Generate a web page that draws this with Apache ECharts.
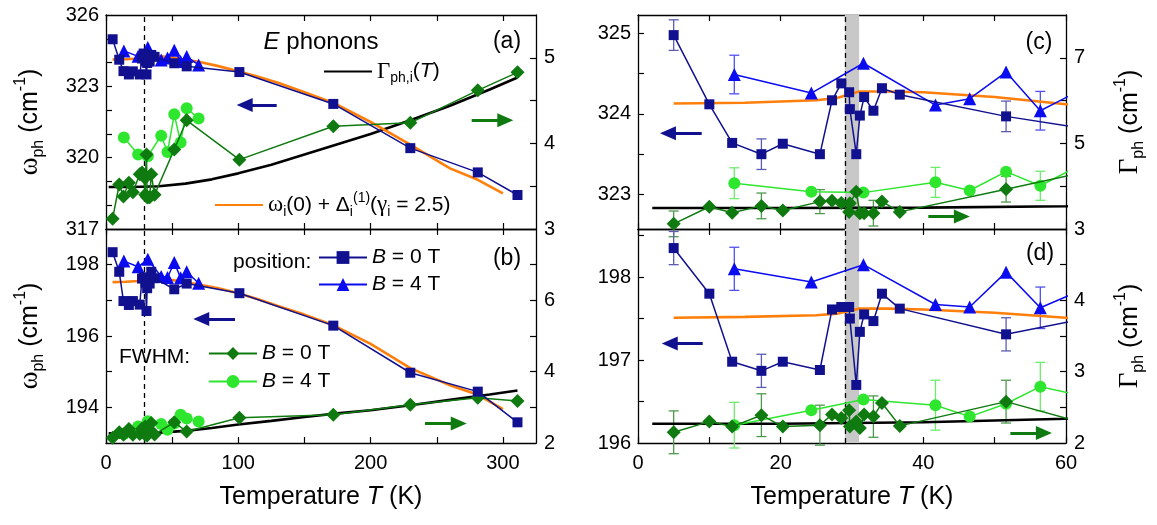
<!DOCTYPE html>
<html><head><meta charset="utf-8">
<script src="https://cdn.jsdelivr.net/npm/echarts@6/dist/echarts.min.js"></script>
<style>html,body{margin:0;padding:0;background:#fff}#c{width:1157px;height:525px}</style>
</head><body><div id="c"></div>
<script>
// ---------------- DATA ----------------
// B = 0 T temperatures (K)
const T0 = [5,10,13.2,17.3,20.3,25.5,27.2,28.5,29.6,29.7,30.6,31.1,31.7,33,34.2,36.7,51.6,61,100.8,171.8,230,281,311];
// E phonon ~324 cm-1 : position and FWHM, B = 0 T
const wE0 = [324.98,324.12,323.64,323.50,323.63,323.50,324.17,324.38,324.27,324.06,323.50,323.98,324.21,324.04,324.32,324.24,323.97,323.84,323.6,322.26,320.4,319.38,318.43];
const gE0 = [3.12,3.52,3.38,3.54,3.43,3.64,3.66,3.61,3.40,3.60,3.87,3.37,3.37,3.37,3.64,3.40,3.93,4.27,3.81,4.2,4.24,4.62,4.83];
// E phonon ~197 cm-1 : position and FWHM, B = 0 T
const wA0 = [198.35,197.80,196.98,196.87,196.98,196.88,197.61,197.64,197.64,197.50,196.70,197.34,197.55,197.47,197.80,197.62,197.31,197.47,197.2,196.29,194.97,194.44,193.58];
const gA0 = [2.15,2.30,2.23,2.39,2.23,2.25,2.40,2.35,2.46,2.23,2.30,2.21,2.40,2.37,2.56,2.24,2.58,2.32,2.71,2.79,3.07,3.27,3.18];
// B = 4 T
const T4 = [13.5,24.3,31.6,41.7,46.5,51.6,56.4,61,70];
const wE4 = [324.49,324.26,324.63,324.11,324.19,324.52,324.04,324.25,323.9];
const gE4 = [4.07,3.87,3.85,4.09,3.90,4.34,4.01,4.41,4.29];
const wA4 = [198.10,197.94,198.15,197.67,197.64,198.06,197.63,197.8,197.48];
const gA4 = [2.25,2.46,2.61,2.53,2.37,2.55,2.79,2.69,2.6];
// model omega_i(0) + Delta_i(1)
const Tm = [5,15,25,28,31,35,40,50,60,70,85,100,115,130,150,172,200,230,260,281,300];
const mE = [324.13,324.14,324.17,324.2,324.28,324.28,324.27,324.21,324.12,324.03,323.85,323.63,323.4,323.15,322.75,322.3,321.5,320.55,319.55,319.07,318.5];
const mA = [197.51,197.52,197.54,197.56,197.62,197.62,197.61,197.57,197.51,197.44,197.34,197.2,197.03,196.84,196.6,196.3,195.78,195.1,194.62,194.35,193.95];
// Gamma_ph,i(T) fit
const Tf = [2,20,40,60,80,100,125,150,175,200,230,260,290,311];
const fE = [3.49,3.49,3.50,3.53,3.58,3.65,3.75,3.87,3.99,4.11,4.27,4.44,4.63,4.77];
const fA = [2.27,2.27,2.29,2.34,2.42,2.52,2.62,2.73,2.83,2.92,3.06,3.21,3.36,3.47];
// error bars [T, half width]
const eE_sq  = [[5,0.19],[17.3,0.19],[51.6,0.19]];
const eE_tri = [[13.5,0.24],[56.4,0.24]];
const eE_dia = [[5,0.3],[17.3,0.3],[25.5,0.28],[33,0.3],[51.6,0.3]];
const eE_cir = [[13.5,0.36],[41.7,0.35],[56.4,0.34]];
const eA_sq  = [[5,0.2],[17.3,0.2],[51.6,0.2]];
const eA_tri = [[13.5,0.26],[56.4,0.25]];
const eA_dia = [[5,0.3],[17.3,0.3],[25.5,0.28],[33,0.29],[51.6,0.3]];
const eA_cir = [[13.5,0.32],[41.7,0.35],[56.4,0.34]];
// transition
const Tc = 29;
const bandT = [29, 31];
// tick labels
const xLabL = [0,100,200,300], xTickL = [0,50,100,150,200,250,300];
const xLabR = [0,20,40,60], xTickR = [0,10,20,30,40,50,60];

// ---------------- STYLE ----------------
const FONT = 'Liberation Sans', SERIF = 'Liberation Serif', K = '#000';
const NAVY = '#11118f', BLUE = '#0b0bf0', DGREEN = '#0f7a0f', LGREEN = '#2ee62e', ORANGE = '#ff7f0a';

const RL = {
  n:{fontFamily:FONT,fontSize:21,lineHeight:28,color:K},
  i:{fontFamily:FONT,fontSize:21,fontStyle:'italic',lineHeight:28,color:K},
  g:{fontFamily:SERIF,fontSize:23,lineHeight:28,color:K},
  w:{fontFamily:SERIF,fontSize:23,lineHeight:28,color:K},
  sub:{fontFamily:FONT,fontSize:14,lineHeight:14,verticalAlign:'bottom',color:K},
  sup:{fontFamily:FONT,fontSize:14,lineHeight:14,verticalAlign:'top',color:K}
};
const RN = {
  n:{fontFamily:FONT,fontSize:25,lineHeight:34,color:K},
  i:{fontFamily:FONT,fontSize:25,fontStyle:'italic',lineHeight:34,color:K},
  g:{fontFamily:SERIF,fontSize:27,lineHeight:34,color:K},
  w:{fontFamily:SERIF,fontSize:27,lineHeight:34,color:K},
  sub:{fontFamily:FONT,fontSize:16,lineHeight:16,verticalAlign:'bottom',color:K},
  sup:{fontFamily:FONT,fontSize:16,lineHeight:16,verticalAlign:'top',color:K}
};

const grids = [
  {left:106, top:15, width:430, height:214},
  {left:106, top:229, width:430, height:214},
  {left:638, top:15, width:428, height:214},
  {left:638, top:229, width:428, height:214}
];
const P = [
  {x:[0,325], xt:xTickL, xl:xLabL, showX:false,
   yL:[317,326], yLt:[318,319,320,321,322,323,324,325], yLl:[317,320,323,326],
   yR:[3,5.5], yRt:[3.5,4,4.5,5], yRl:[3,4,5], nameL:true, nameR:false},
  {x:[0,325], xt:xTickL, xl:xLabL, showX:true,
   yL:[193,199], yLt:[194,195,196,197,198], yLl:[194,196,198],
   yR:[2,8], yRt:[3,4,5,6,7], yRl:[2,4,6], nameL:true, nameR:false},
  {x:[0,60], xt:xTickR, xl:xLabR, showX:false,
   yL:[322.57,325.23], yLt:[323,323.5,324,324.5,325], yLl:[323,324,325],
   yR:[3,8], yRt:[4,5,6,7], yRl:[3,5,7], nameL:false, nameR:true},
  {x:[0,60], xt:xTickR, xl:xLabR, showX:true,
   yL:[196,198.58], yLt:[196.5,197,197.5,198,198.5], yLl:[196,197,198],
   yR:[2,5], yRt:[2.5,3,3.5,4,4.5], yRl:[2,3,4], nameL:false, nameR:true}
];

const aLine = {show:true,onZero:false,lineStyle:{color:K,width:1.3}};
const tick = v => ({show:true,inside:true,length:6,lineStyle:{color:K,width:1.2},customValues:v});
const lab = (v,show,m) => ({show:show,customValues:v,fontFamily:FONT,fontSize:20,color:K,margin:m});
const XA = [], YA = [];
P.forEach((p,g)=>{
  XA.push({type:'value',gridIndex:g,position:'bottom',min:p.x[0],max:p.x[1],
    axisLine:aLine,axisTick:tick(p.xt),axisLabel:lab(p.xl,p.showX,10),splitLine:{show:false},
    name:p.showX?'{n|Temperature }{i|T}{n| (K)}':'',nameLocation:'middle',nameGap:37,nameTextStyle:{rich:RN}});
  XA.push({type:'value',gridIndex:g,position:'top',min:p.x[0],max:p.x[1],
    axisLine:aLine,axisTick:tick(p.xt),axisLabel:{show:false},splitLine:{show:false}});
  YA.push({type:'value',gridIndex:g,position:'left',min:p.yL[0],max:p.yL[1],
    axisLine:aLine,axisTick:tick(p.yLt),axisLabel:lab(p.yLl,true,7),splitLine:{show:false},
    name:p.nameL?'{w|ω}{sub|ph}{n| (cm}{sup|-1}{n|)}':'',nameLocation:'middle',nameRotate:90,nameGap:59,nameTextStyle:{rich:RN}});
  YA.push({type:'value',gridIndex:g,position:'right',min:p.yR[0],max:p.yR[1],
    axisLine:aLine,axisTick:tick(p.yRt),axisLabel:lab(p.yRl,true,8),splitLine:{show:false},
    name:p.nameR?'{g|Γ}{sub|ph}{n| (cm}{sup|-1}{n|)}':'',nameLocation:'middle',nameRotate:90,nameGap:47,nameTextStyle:{rich:RN}});
});

// ---------------- SERIES ----------------
const S = [];
const pts = (xs,ys) => xs.map((x,i)=>[x,ys[i]]);
function lineSer(p, side, name, xs, ys, color, sym, size, lw, z, extra){
  S.push(Object.assign({type:'line',name:name,xAxisIndex:2*p,yAxisIndex:2*p+side,data:pts(xs,ys),
    symbol:sym,symbolSize:size,showSymbol:sym!=='none',showAllSymbol:true,
    lineStyle:{color:color,width:lw},itemStyle:{color:color,borderWidth:0},z:z,
    emphasis:{disabled:true},silent:true,animation:false}, extra||{}));
}
function errSer(p, side, T, V, E, color){
  const rows = E.map(([t,e])=>{const v=V[T.indexOf(t)]; return [t, v-e, v+e];});
  S.push({type:'custom',xAxisIndex:2*p,yAxisIndex:2*p+side,data:rows,z:3,silent:true,animation:false,
    encode:{x:0,y:[1,2]},
    renderItem:(params,api)=>{
      const a=api.coord([api.value(0),api.value(1)]), b=api.coord([api.value(0),api.value(2)]), w=5;
      const st={stroke:color,lineWidth:1.3};
      return {type:'group',children:[
        {type:'line',shape:{x1:a[0],y1:a[1],x2:b[0],y2:b[1]},style:st},
        {type:'line',shape:{x1:a[0]-w,y1:a[1],x2:a[0]+w,y2:a[1]},style:st},
        {type:'line',shape:{x1:b[0]-w,y1:b[1],x2:b[0]+w,y2:b[1]},style:st}]};
    }});
}
function arrow(from,to,color){
  return {silent:true,symbol:['none','triangle'],symbolSize:[14,16],label:{show:false},
    lineStyle:{color:color,width:3,type:'solid'},itemStyle:{color:color},emphasis:{disabled:true},animation:false,
    data:[[{coord:from},{coord:to}]]};
}
function helper(p, withBand){
  const s = {type:'line',xAxisIndex:2*p,yAxisIndex:2*p,data:[],z:2,silent:true,animation:false,
    markLine:{silent:true,symbol:['none','none'],label:{show:false},animation:false,
      lineStyle:{color:K,width:1.3,type:[5,4]},emphasis:{disabled:true},data:[{xAxis:Tc}]}};
  if(withBand) s.markArea = {silent:true,itemStyle:{color:'#c8c8c8'},emphasis:{disabled:true},
      data:[[{xAxis:bandT[0]},{xAxis:bandT[1]}]]};
  S.push(s);
}
const sets = [
  {w0:wE0,w4:wE4,g0:gE0,g4:gE4,m:mE,f:fE},
  {w0:wA0,w4:wA4,g0:gA0,g4:gA4,m:mA,f:fA}
];
const arrows = [
  {b:[[129,322.22],[104.8,322.22]], g:[[276.4,4.27],[301.8,4.27]]},
  {b:[[97.5,196.48],[72,196.48]],   g:[[241.1,2.55],[266.6,2.55]]},
  {b:[[8.93,323.76],[4.2,323.76]],  g:[[40.7,3.29],[45.4,3.29]]},
  {b:[[9.07,197.2],[4.45,197.2]],   g:[[52.2,2.14],[56.9,2.14]]}
];
const errs = [null,null,
  {sq:eE_sq,tri:eE_tri,dia:eE_dia,cir:eE_cir},
  {sq:eA_sq,tri:eA_tri,dia:eA_dia,cir:eA_cir}];
const tag = ['a','b','c','d'];
for(let p=0;p<4;p++){
  const d = sets[p%2], t = tag[p];
  helper(p, p>=2);
  lineSer(p,1,t+'_fit',Tf,d.f,K,'none',0,2.6,4);
  lineSer(p,0,t+'_mod',Tm,d.m,ORANGE,'none',0,2.6,5);
  lineSer(p,1,t+'_cir',T4,d.g4,LGREEN,'circle',12,1.5,6);
  lineSer(p,1,t+'_dia',T0,d.g0,DGREEN,'diamond',[14,14],1.5,7,{markLine:arrow(arrows[p].g[0],arrows[p].g[1],DGREEN)});
  lineSer(p,0,t+'_tri',T4,d.w4,BLUE,'triangle',13,1.5,8);
  lineSer(p,0,t+'_sq',T0,d.w0,NAVY,'rect',10,1.5,9,{markLine:arrow(arrows[p].b[0],arrows[p].b[1],NAVY)});
  if(errs[p]){
    errSer(p,0,T0,d.w0,errs[p].sq,'#5c5cb4');
    errSer(p,0,T4,d.w4,errs[p].tri,'#4f4ff5');
    errSer(p,1,T0,d.g0,errs[p].dia,'#4d9a4d');
    errSer(p,1,T4,d.g4,errs[p].cir,'#6cec6c');
  }
}

// ---------------- LEGENDS & TEXT ----------------
function leg(name,left,cy,text,noSym){
  const o = {show:true,data:[name],left:left,top:cy-14,orient:'vertical',itemWidth:48,itemHeight:16,
    padding:0,selectedMode:false,formatter:()=>text,textStyle:{rich:RL,fontFamily:FONT,fontSize:21,color:K}};
  if(noSym){ o.top = cy-14; o.itemStyle = {opacity:0}; }
  else { o.top = cy-14; }
  return o;
}
const legends = [
  leg('a_fit',323,74,'{g|Γ}{sub|ph,i}{n|(}{i|T}{n|)}',true),
  leg('a_mod',214,205,'{w|ω}{sub|i}{n|(0) + Δ}{sub|i}{sup|(1)}{n|(}{w|γ}{sub|i}{n| = 2.5)}',true),
  leg('b_sq',318,261,'{i|B}{n| = 0 T}'),
  leg('b_tri',318,288,'{i|B}{n| = 4 T}'),
  leg('b_dia',208,357,'{i|B}{n| = 0 T}'),
  leg('b_cir',208,385,'{i|B}{n| = 4 T}')
];
const graphics = [
  {type:'text',x:321,y:42,silent:true,style:{text:'{ib|E}{nb| phonons}',rich:{
    ib:{fontFamily:FONT,fontSize:24,fontStyle:'italic',color:K},nb:{fontFamily:FONT,fontSize:24,color:K}},
    align:'center',verticalAlign:'middle'}},
  {type:'text',x:507,y:42,silent:true,style:{text:'(a)',fontFamily:FONT,fontSize:23,fill:K,align:'center',verticalAlign:'middle'}},
  {type:'text',x:507,y:259,silent:true,style:{text:'(b)',fontFamily:FONT,fontSize:23,fill:K,align:'center',verticalAlign:'middle'}},
  {type:'text',x:1039,y:43,silent:true,style:{text:'(c)',fontFamily:FONT,fontSize:23,fill:K,align:'center',verticalAlign:'middle'}},
  {type:'text',x:1040,y:254,silent:true,style:{text:'(d)',fontFamily:FONT,fontSize:23,fill:K,align:'center',verticalAlign:'middle'}},
  {type:'text',x:233,y:262,silent:true,style:{text:'position:',fontFamily:FONT,fontSize:21,fill:K,align:'left',verticalAlign:'middle'}},
  {type:'text',x:119,y:357,silent:true,style:{text:'FWHM:',fontFamily:FONT,fontSize:21,fill:K,align:'left',verticalAlign:'middle'}}
];

const chart = echarts.init(document.getElementById('c'), null, {renderer:'canvas'});
chart.setOption({
  animation:false,
  backgroundColor:'#ffffff',
  textStyle:{fontFamily:FONT},
  grid:grids,
  xAxis:XA,
  yAxis:YA,
  legend:legends,
  graphic:graphics,
  series:S
});
</script>
</body></html>
